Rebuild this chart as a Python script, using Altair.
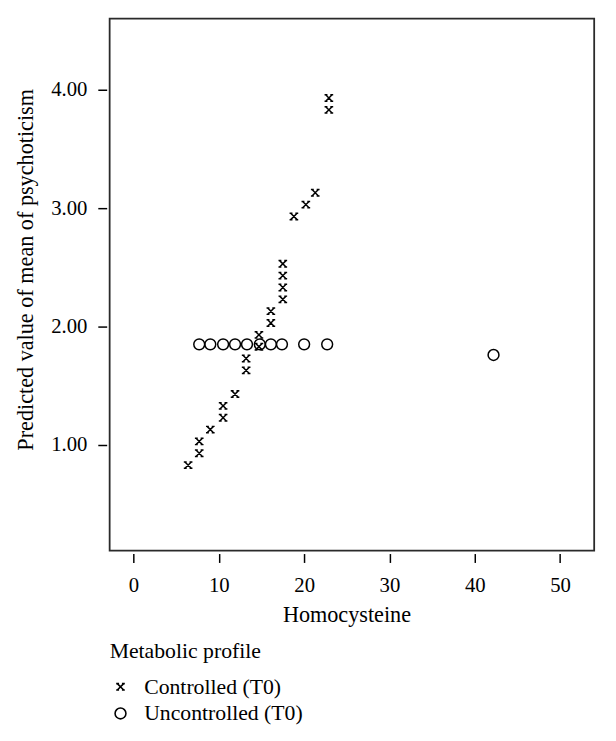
import altair as alt
import pandas as pd

# --- data ---
groups = ["Controlled (T0)", "Uncontrolled (T0)"]

ctrl_x = [6.4, 7.7, 7.7, 9.0, 10.5, 10.5, 11.9, 13.2, 13.2, 14.7, 14.7,
          16.1, 16.1, 17.5, 17.5, 17.5, 17.5, 18.8, 20.2, 21.3, 22.9, 22.9]
ctrl_y = [0.83, 0.93, 1.03, 1.13, 1.23, 1.33, 1.43, 1.63, 1.73, 1.83, 1.93,
          2.03, 2.13, 2.23, 2.33, 2.43, 2.53, 2.93, 3.03, 3.13, 3.83, 3.93]

unc_x = [7.7, 9.0, 10.5, 11.9, 13.3, 14.8, 16.1, 17.4, 20.0, 22.7, 42.2]
unc_y = [1.85, 1.85, 1.85, 1.85, 1.85, 1.85, 1.85, 1.85, 1.85, 1.85, 1.76]

x_ticks = [0, 10, 20, 30, 40, 50]
y_ticks = [1, 2, 3, 4]

rows = [{"hcy": x, "psy": y, "group": groups[0]} for x, y in zip(ctrl_x, ctrl_y)]
rows += [{"hcy": x, "psy": y, "group": groups[1]} for x, y in zip(unc_x, unc_y)]
df = pd.DataFrame(rows)

FONT = "Liberation Serif"
X_PATH = ("M-1,-1L1,1M1,-1L-1,1"
          "M-1.35,-1H-0.45M0.45,-1H1.35M-1.35,1H-0.45M0.45,1H1.35")

legend = alt.Legend(
    title="Metabolic profile",
    orient="none",
    legendX=0,
    legendY=631,
    padding=0,
    titleFont=FONT,
    titleFontSize=22,
    titleFontWeight="normal",
    titleColor="black",
    titlePadding=13,
    titleLimit=400,
    labelFont=FONT,
    labelFontSize=22,
    labelColor="black",
    labelOffset=13,
    labelLimit=400,
    rowPadding=5,
    symbolStrokeColor="black",
    symbolStrokeWidth=1.6,
    symbolFillColor="transparent",
)

chart = (
    alt.Chart(df)
    .mark_point(filled=False, strokeWidth=1.5, opacity=1, color="black")
    .encode(
        x=alt.X(
            "hcy:Q",
            scale=alt.Scale(domain=[-2.8, 54], nice=False, zero=False),
            axis=alt.Axis(
                values=x_ticks,
                title="Homocysteine",
                titleX=240,
                titleY=69,
                titleAlign="center",
                titleBaseline="alphabetic",
                labelPadding=12,
            ),
        ),
        y=alt.Y(
            "psy:Q",
            scale=alt.Scale(domain=[0.108, 4.6], nice=False, zero=False),
            axis=alt.Axis(
                values=y_ticks,
                format=".2f",
                title="Predicted value of mean of psychoticism",
                titleX=-75,
                titleY=254,
                titleAngle=270,
                titleAlign="center",
                titleBaseline="alphabetic",
                titleLimit=600,
                labelPadding=11,
            ),
        ),
        shape=alt.Shape("group:N", scale=alt.Scale(domain=groups, range=[X_PATH, "circle"]), legend=legend),
        size=alt.Size("group:N", scale=alt.Scale(domain=groups, range=[42, 121]), legend=legend),
        color=alt.value("black"),
    )
    .properties(
        width=491,
        height=539,
        autosize=alt.AutoSizeParams(type="none"),
        padding={"left": 103, "top": 6, "right": 14, "bottom": 180},
    )
    .configure_view(stroke="#2a2a2a", strokeWidth=1.8)
    .configure_axis(
        domain=False,
        grid=False,
        offset=3,
        ticks=True,
        tickSize=9,
        tickWidth=1.5,
        tickColor="black",
        labelFont=FONT,
        labelFontSize=21,
        labelColor="black",
        titleFont=FONT,
        titleFontSize=22.5,
        titleFontWeight="normal",
        titleColor="black",
    )
)

chart.save("out.html", embed_options={"renderer": "svg", "actions": False})
